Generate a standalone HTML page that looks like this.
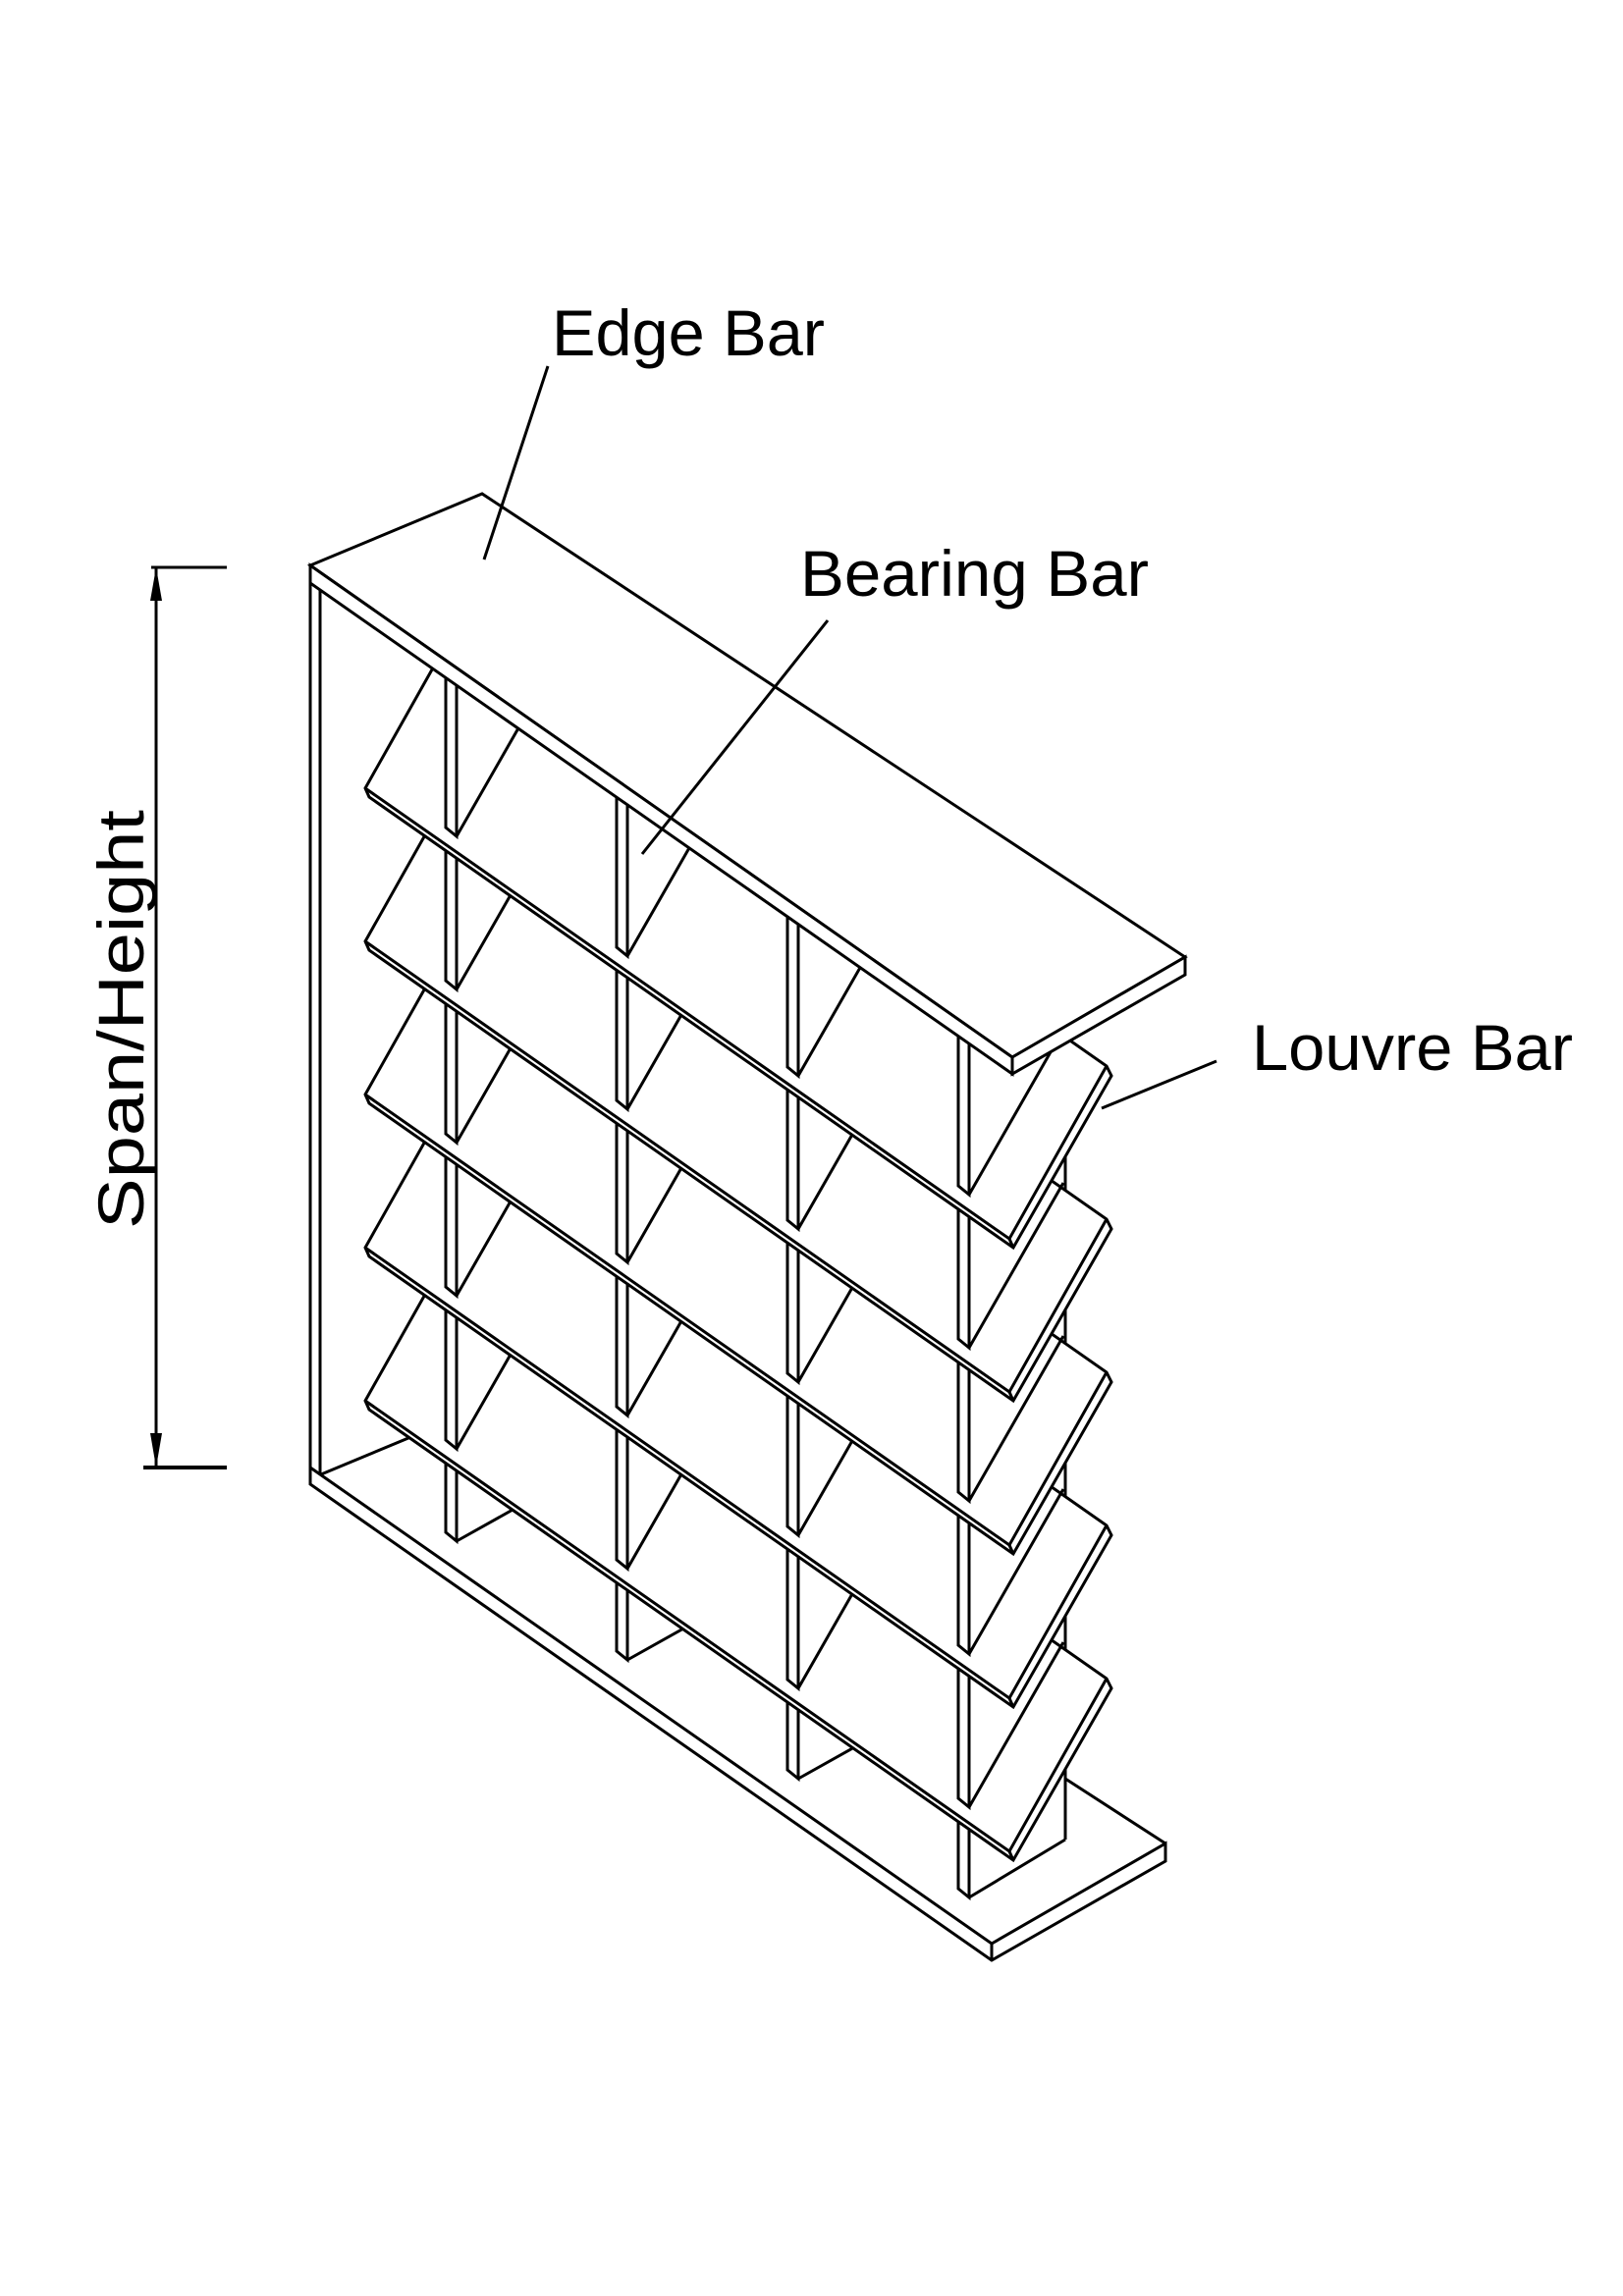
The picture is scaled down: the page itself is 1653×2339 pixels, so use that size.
<!DOCTYPE html>
<html><head><meta charset="utf-8"><style>
html,body{margin:0;padding:0;background:#fff}
svg{display:block}
text{font-family:"Liberation Sans",sans-serif;font-size:66px;fill:#000}
</style></head><body>
<svg width="1653" height="2339" viewBox="0 0 1653 2339" xmlns="http://www.w3.org/2000/svg">
<rect width="1653" height="2339" fill="#fff"/>
<g fill="#fff" stroke="#000" stroke-width="3" stroke-linejoin="miter">
<!-- bottom plate -->
<polygon points="316,1495 1010,1980 1187,1878 1187,1896 1010,1997 316,1512"/>
<line x1="1010" y1="1980" x2="1010" y2="1997"/>
<line x1="1085" y1="1812" x2="1187" y2="1878"/>
<line x1="327" y1="1502" x2="440" y2="1455"/>
<!-- right back vertical -->
<line x1="1085" y1="1000" x2="1085" y2="1874"/>
<!-- left post -->
<line x1="316" y1="576" x2="316" y2="1512"/>
<line x1="326" y1="594" x2="326" y2="1502"/>
<!-- bottom bar diagonals -->
<line x1="465" y1="1570" x2="565" y2="1514"/>
<line x1="639" y1="1691" x2="739" y2="1635"/>
<line x1="813" y1="1812" x2="913" y2="1756"/>
<line x1="987" y1="1933" x2="1085" y2="1874"/>
<!-- full bars -->
<polygon points="454,678 465,678 465,1570 454,1561"/>
<polygon points="628,799 639,799 639,1691 628,1682"/>
<polygon points="802,921 813,921 813,1812 802,1803"/>
<polygon points="976,1043 987,1043 987,1933 976,1924"/>

<!-- louvre 5 -->
<polygon points="372,1427 471,1251 1127,1710 1132,1720 1032,1895 376,1436"/>
<polyline fill="none" points="372,1427 1028,1886 1127,1710"/>
<line x1="1028" y1="1886" x2="1032" y2="1895"/>
<polygon points="454,678 465,678 465,1476 454,1467"/><line x1="465" y1="1476" x2="561" y2="1308"/>
<polygon points="628,799 639,799 639,1598 628,1589"/><line x1="639" y1="1598" x2="735" y2="1430"/>
<polygon points="802,921 813,921 813,1720 802,1711"/><line x1="813" y1="1720" x2="909" y2="1552"/>
<polygon points="976,1043 987,1043 987,1841 976,1832"/><line x1="987" y1="1841" x2="1083" y2="1673"/>

<!-- louvre 4 -->
<polygon points="372,1271 471,1095 1127,1554 1132,1564 1032,1739 376,1280"/>
<polyline fill="none" points="372,1271 1028,1730 1127,1554"/>
<line x1="1028" y1="1730" x2="1032" y2="1739"/>
<polygon points="454,678 465,678 465,1320 454,1311"/><line x1="465" y1="1320" x2="561" y2="1152"/>
<polygon points="628,799 639,799 639,1442 628,1433"/><line x1="639" y1="1442" x2="735" y2="1274"/>
<polygon points="802,921 813,921 813,1564 802,1555"/><line x1="813" y1="1564" x2="909" y2="1396"/>
<polygon points="976,1043 987,1043 987,1685 976,1676"/><line x1="987" y1="1685" x2="1083" y2="1517"/>

<!-- louvre 3 -->
<polygon points="372,1115 471,939 1127,1398 1132,1408 1032,1583 376,1124"/>
<polyline fill="none" points="372,1115 1028,1574 1127,1398"/>
<line x1="1028" y1="1574" x2="1032" y2="1583"/>
<polygon points="454,678 465,678 465,1164 454,1155"/><line x1="465" y1="1164" x2="561" y2="996"/>
<polygon points="628,799 639,799 639,1286 628,1277"/><line x1="639" y1="1286" x2="735" y2="1118"/>
<polygon points="802,921 813,921 813,1408 802,1399"/><line x1="813" y1="1408" x2="909" y2="1240"/>
<polygon points="976,1043 987,1043 987,1529 976,1520"/><line x1="987" y1="1529" x2="1083" y2="1361"/>

<!-- louvre 2 -->
<polygon points="372,959 471,783 1127,1242 1132,1252 1032,1427 376,968"/>
<polyline fill="none" points="372,959 1028,1418 1127,1242"/>
<line x1="1028" y1="1418" x2="1032" y2="1427"/>
<polygon points="454,678 465,678 465,1008 454,999"/><line x1="465" y1="1008" x2="561" y2="840"/>
<polygon points="628,799 639,799 639,1130 628,1121"/><line x1="639" y1="1130" x2="735" y2="962"/>
<polygon points="802,921 813,921 813,1252 802,1243"/><line x1="813" y1="1252" x2="909" y2="1084"/>
<polygon points="976,1043 987,1043 987,1373 976,1364"/><line x1="987" y1="1373" x2="1083" y2="1205"/>

<!-- louvre 1 -->
<polygon points="372,803 471,627 1127,1086 1132,1096 1032,1271 376,812"/>
<polyline fill="none" points="372,803 1028,1262 1127,1086"/>
<line x1="1028" y1="1262" x2="1032" y2="1271"/>
<polygon points="454,678 465,678 465,852 454,843"/><line x1="465" y1="852" x2="561" y2="684"/>
<polygon points="628,799 639,799 639,974 628,965"/><line x1="639" y1="974" x2="735" y2="806"/>
<polygon points="802,921 813,921 813,1096 802,1087"/><line x1="813" y1="1096" x2="909" y2="928"/>
<polygon points="976,1043 987,1043 987,1217 976,1208"/><line x1="987" y1="1217" x2="1083" y2="1049"/>

<!-- edge bar -->
<polygon points="316,576 491,503 1207,975 1031,1077"/>
<polygon points="316,576 1031,1077 1031,1094 316,594"/>
<polygon points="1031,1077 1207,975 1207,993 1031,1094"/>

<!-- leaders -->
<line x1="558" y1="373" x2="493" y2="570"/>
<line x1="843" y1="632" x2="654" y2="870"/>
<line x1="1239" y1="1081" x2="1122" y2="1129"/>

<!-- dimension -->
<line x1="159" y1="578" x2="159" y2="1495"/>
<line x1="154" y1="578" x2="231" y2="578"/>
<line x1="146" y1="1495" x2="231" y2="1495" stroke-width="4"/>
</g>
<polygon points="159,578 153,612 165,612" fill="#000"/>
<polygon points="159,1495 153,1460 165,1460" fill="#000"/>

<text x="562" y="362" textLength="278" lengthAdjust="spacingAndGlyphs">Edge Bar</text>
<text x="815" y="607" textLength="355" lengthAdjust="spacingAndGlyphs">Bearing Bar</text>
<text x="1275" y="1090" textLength="327" lengthAdjust="spacingAndGlyphs">Louvre Bar</text>
<text transform="translate(146,1252) rotate(-90)" x="0" y="0" textLength="427" lengthAdjust="spacingAndGlyphs">Span/Height</text>
</svg>
</body></html>
